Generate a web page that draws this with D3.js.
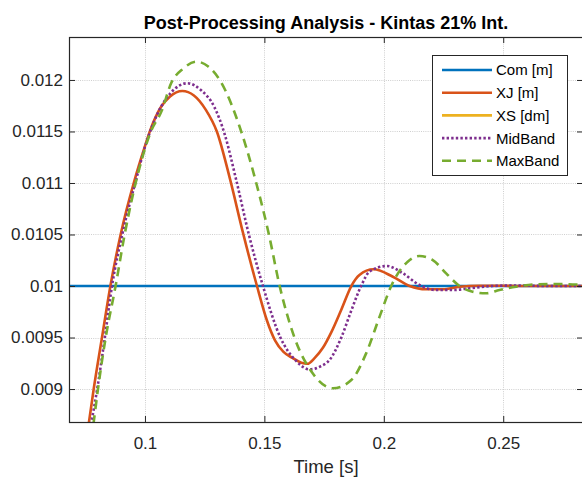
<!DOCTYPE html>
<html>
<head>
<meta charset="utf-8">
<script src="https://cdn.jsdelivr.net/npm/d3@7"></script>
<style>
  body { margin: 0; background: #fff; }
  svg { display: block; font-family: "Liberation Sans", Arial, sans-serif; }
</style>
</head>
<body>
<div id="chart"></div>
<script>
// ---- data ----
const chartTitle = 'Post-Processing Analysis - Kintas 21% Int.';
const xLabel = 'Time [s]';

const xTicks = [0.1, 0.15, 0.2, 0.25];
const xTickLabels = ['0.1', '0.15', '0.2', '0.25'];
const yTicks = [0.009, 0.0095, 0.01, 0.0105, 0.011, 0.0115, 0.012];
const yTickLabels = ['0.009', '0.0095', '0.01', '0.0105', '0.011', '0.0115', '0.012'];

const seriesNames = ['Com [m]', 'XJ [m]', 'XS [dm]', 'MidBand', 'MaxBand'];

// Com [m] : reference level
const comTime = [0.066, 0.286];
const comValue = [0.01, 0.01];

// XJ [m]
const xjTime = [0.072, 0.07657, 0.07854, 0.08201, 0.08553, 0.08983, 0.09569, 0.0995, 0.1025, 0.1065, 0.1105,
  0.11565, 0.1205, 0.1255, 0.1301, 0.1357, 0.1409, 0.1469, 0.1510, 0.1545, 0.1580, 0.1619, 0.1655, 0.1680,
  0.1710, 0.1745, 0.1780, 0.1822, 0.1864, 0.1898, 0.1957, 0.2038, 0.2108, 0.2177, 0.2247, 0.2317, 0.24, 0.25,
  0.26, 0.27, 0.286];
const xjValue = [0.00805, 0.00868, 0.0090, 0.0095, 0.0100, 0.0105, 0.01103, 0.01132, 0.01153, 0.01173, 0.01184,
  0.011893, 0.01185, 0.01171, 0.0115, 0.01103, 0.01053, 0.0100, 0.00967, 0.00947, 0.00936, 0.00930, 0.009255, 0.009245,
  0.00930, 0.00940, 0.00955, 0.00977, 0.0100, 0.010107, 0.010162, 0.01009, 0.0100, 0.009968, 0.009968, 0.009993, 0.010003, 0.010002,
  0.01, 0.01, 0.01];

// XS [dm] : outside of the visible range
const xsTime = [];
const xsValue = [];

// MidBand
const midTime = [0.072, 0.0776, 0.0800, 0.0832, 0.0862, 0.0905, 0.0965, 0.1000, 0.1030, 0.1070, 0.1110,
  0.11774, 0.1235, 0.1290, 0.1333, 0.1382, 0.1435, 0.1494, 0.1567, 0.1630, 0.1689, 0.1735, 0.1773,
  0.1822, 0.1862, 0.1905, 0.194, 0.2012, 0.208, 0.2149, 0.2219, 0.2289, 0.2359, 0.2456, 0.255, 0.27, 0.286];
const midValue = [0.0080, 0.00868, 0.0090, 0.0095, 0.0100, 0.0105, 0.01105, 0.01135, 0.01155, 0.01175, 0.01188,
  0.011968, 0.0119, 0.01174, 0.01148, 0.01103, 0.0105, 0.0100, 0.0095, 0.00928, 0.009191, 0.00922, 0.009282,
  0.0095, 0.00975, 0.0100, 0.010139, 0.010194, 0.010123, 0.01001, 0.009961, 0.009961, 0.009978, 0.0100, 0.010005, 0.01, 0.01];

// MaxBand
const maxTime = [0.072, 0.07854, 0.08033, 0.08356, 0.0877, 0.0915, 0.0961, 0.1025, 0.1070, 0.1110, 0.1160,
  0.1215, 0.1265, 0.1313, 0.1403, 0.1466, 0.1519, 0.1564, 0.1626, 0.1703, 0.1787,
  0.1864, 0.1926, 0.1982, 0.2035, 0.2100, 0.2149, 0.2205, 0.2261, 0.2317, 0.2372, 0.2428, 0.2484, 0.2554,
  0.2638, 0.2735, 0.286];
const maxValue = [0.0078, 0.00868, 0.0090, 0.0095, 0.0100, 0.0105, 0.0110, 0.0115, 0.0117, 0.01197, 0.01211,
  0.012178, 0.01213, 0.0120, 0.0115, 0.0110, 0.0105, 0.0100, 0.0095, 0.00915, 0.009007,
  0.009087, 0.009346, 0.0097, 0.01002, 0.010236, 0.010291, 0.010252, 0.010123, 0.0100, 0.009945, 0.009929, 0.009961, 0.009993,
  0.010017, 0.010019, 0.010008];

// ---- chart ----
const width = 582, height = 478;
const box = { left: 69, top: 37, right: 583, bottom: 422 };
const axisColor = '#262626';

const svg = d3.select('#chart')
  .append('svg')
  .attr('width', width)
  .attr('height', height);

const x = d3.scaleLinear()
  .domain([0.0682, 0.2834])
  .range([box.left, box.right]);

const y = d3.scaleLinear()
  .domain([0.00868, 0.012417])
  .range([box.bottom, box.top]);

// plot background
svg.append('rect')
  .attr('x', box.left).attr('y', box.top)
  .attr('width', box.right - box.left).attr('height', box.bottom - box.top)
  .attr('fill', '#fff');

// dotted grid
const grid = svg.append('g').attr('class', 'grid')
  .attr('stroke', '#cfcfcf').attr('stroke-width', 1).attr('stroke-dasharray', '1,1.2');
grid.selectAll('.gx').data(xTicks).enter().append('line')
  .attr('x1', d => Math.round(x(d)) + 0.5).attr('x2', d => Math.round(x(d)) + 0.5)
  .attr('y1', box.top).attr('y2', box.bottom);
grid.selectAll('.gy').data(yTicks).enter().append('line')
  .attr('y1', d => Math.round(y(d)) + 0.5).attr('y2', d => Math.round(y(d)) + 0.5)
  .attr('x1', box.left).attr('x2', box.right);

// clip for the curves
svg.append('clipPath').attr('id', 'plot-clip')
  .append('rect')
  .attr('x', box.left).attr('y', box.top)
  .attr('width', box.right - box.left).attr('height', box.bottom - box.top);

const series = [
  { name: seriesNames[0], t: comTime, v: comValue, color: '#0072BD', dash: null },
  { name: seriesNames[1], t: xjTime, v: xjValue, color: '#D95319', dash: null },
  { name: seriesNames[2], t: xsTime, v: xsValue, color: '#EDB120', dash: null },
  { name: seriesNames[3], t: midTime, v: midValue, color: '#7E2F8E', dash: '2.4,2.2' },
  { name: seriesNames[4], t: maxTime, v: maxValue, color: '#77AC30', dash: '9,6' }
];

const line = d3.line()
  .x(d => x(d[0]))
  .y(d => y(d[1]))
  .curve(d3.curveMonotoneX);

const lines = svg.append('g').attr('clip-path', 'url(#plot-clip)');
series.forEach(s => {
  const pts = d3.zip(s.t, s.v);
  if (pts.length < 2) return;
  lines.append('path')
    .datum(pts)
    .attr('d', line)
    .attr('fill', 'none')
    .attr('stroke', s.color)
    .attr('stroke-width', 2.6)
    .attr('stroke-dasharray', s.dash);
});

// axes with inward ticks
const fmtX = d => xTickLabels[xTicks.indexOf(d)];
const fmtY = d => yTickLabels[yTicks.indexOf(d)];

const xAxis = svg.append('g')
  .attr('transform', `translate(0,${box.bottom})`)
  .call(d3.axisBottom(x).tickValues(xTicks).tickFormat(fmtX).tickSizeInner(-6).tickSizeOuter(0).tickPadding(15));
const yAxis = svg.append('g')
  .attr('transform', `translate(${box.left},0)`)
  .call(d3.axisLeft(y).tickValues(yTicks).tickFormat(fmtY).tickSizeInner(-6).tickSizeOuter(0).tickPadding(6));
const xTop = svg.append('g')
  .attr('transform', `translate(0,${box.top})`)
  .call(d3.axisTop(x).tickValues(xTicks).tickFormat('').tickSizeInner(-6).tickSizeOuter(0));
const yRight = svg.append('g')
  .attr('transform', `translate(${box.right},0)`)
  .call(d3.axisRight(y).tickValues(yTicks).tickFormat('').tickSizeInner(-6).tickSizeOuter(0));

[xAxis, yAxis, xTop, yRight].forEach(g => {
  g.select('.domain').remove();
  g.selectAll('line').attr('stroke', axisColor);
  g.selectAll('text')
    .attr('fill', axisColor)
    .style('font-size', '17px')
    .style('font-family', '"Liberation Sans", Arial, sans-serif');
});

// box
svg.append('rect')
  .attr('x', box.left + 0.5).attr('y', box.top + 0.5)
  .attr('width', box.right - box.left).attr('height', box.bottom - box.top)
  .attr('fill', 'none')
  .attr('stroke', axisColor)
  .attr('stroke-width', 1.2);

// title and axis label
svg.append('text')
  .attr('x', (box.left + box.right) / 2)
  .attr('y', 29)
  .attr('text-anchor', 'middle')
  .attr('fill', '#000')
  .style('font-size', '18px')
  .style('font-weight', 'bold')
  .text(chartTitle);

svg.append('text')
  .attr('x', (box.left + box.right) / 2)
  .attr('y', 473)
  .attr('text-anchor', 'middle')
  .attr('fill', axisColor)
  .style('font-size', '18.5px')
  .text(xLabel);

// legend
const legend = svg.append('g').attr('transform', 'translate(432,55)');
legend.append('rect')
  .attr('x', 0.5).attr('y', 0.5)
  .attr('width', 135).attr('height', 120)
  .attr('fill', '#fff')
  .attr('stroke', axisColor)
  .attr('stroke-width', 1);

const rows = legend.selectAll('.row')
  .data(series)
  .enter()
  .append('g')
  .attr('transform', (d, i) => `translate(0,${15 + i * 22.7})`);

rows.append('line')
  .attr('x1', 10).attr('x2', 60)
  .attr('y1', 0).attr('y2', 0)
  .attr('stroke', d => d.color)
  .attr('stroke-width', 2.6)
  .attr('stroke-dasharray', d => d.dash);

rows.append('text')
  .attr('x', 64)
  .attr('y', 0)
  .attr('dy', '0.36em')
  .attr('fill', '#000')
  .style('font-size', '15px')
  .text(d => d.name);
</script>
</body>
</html>
